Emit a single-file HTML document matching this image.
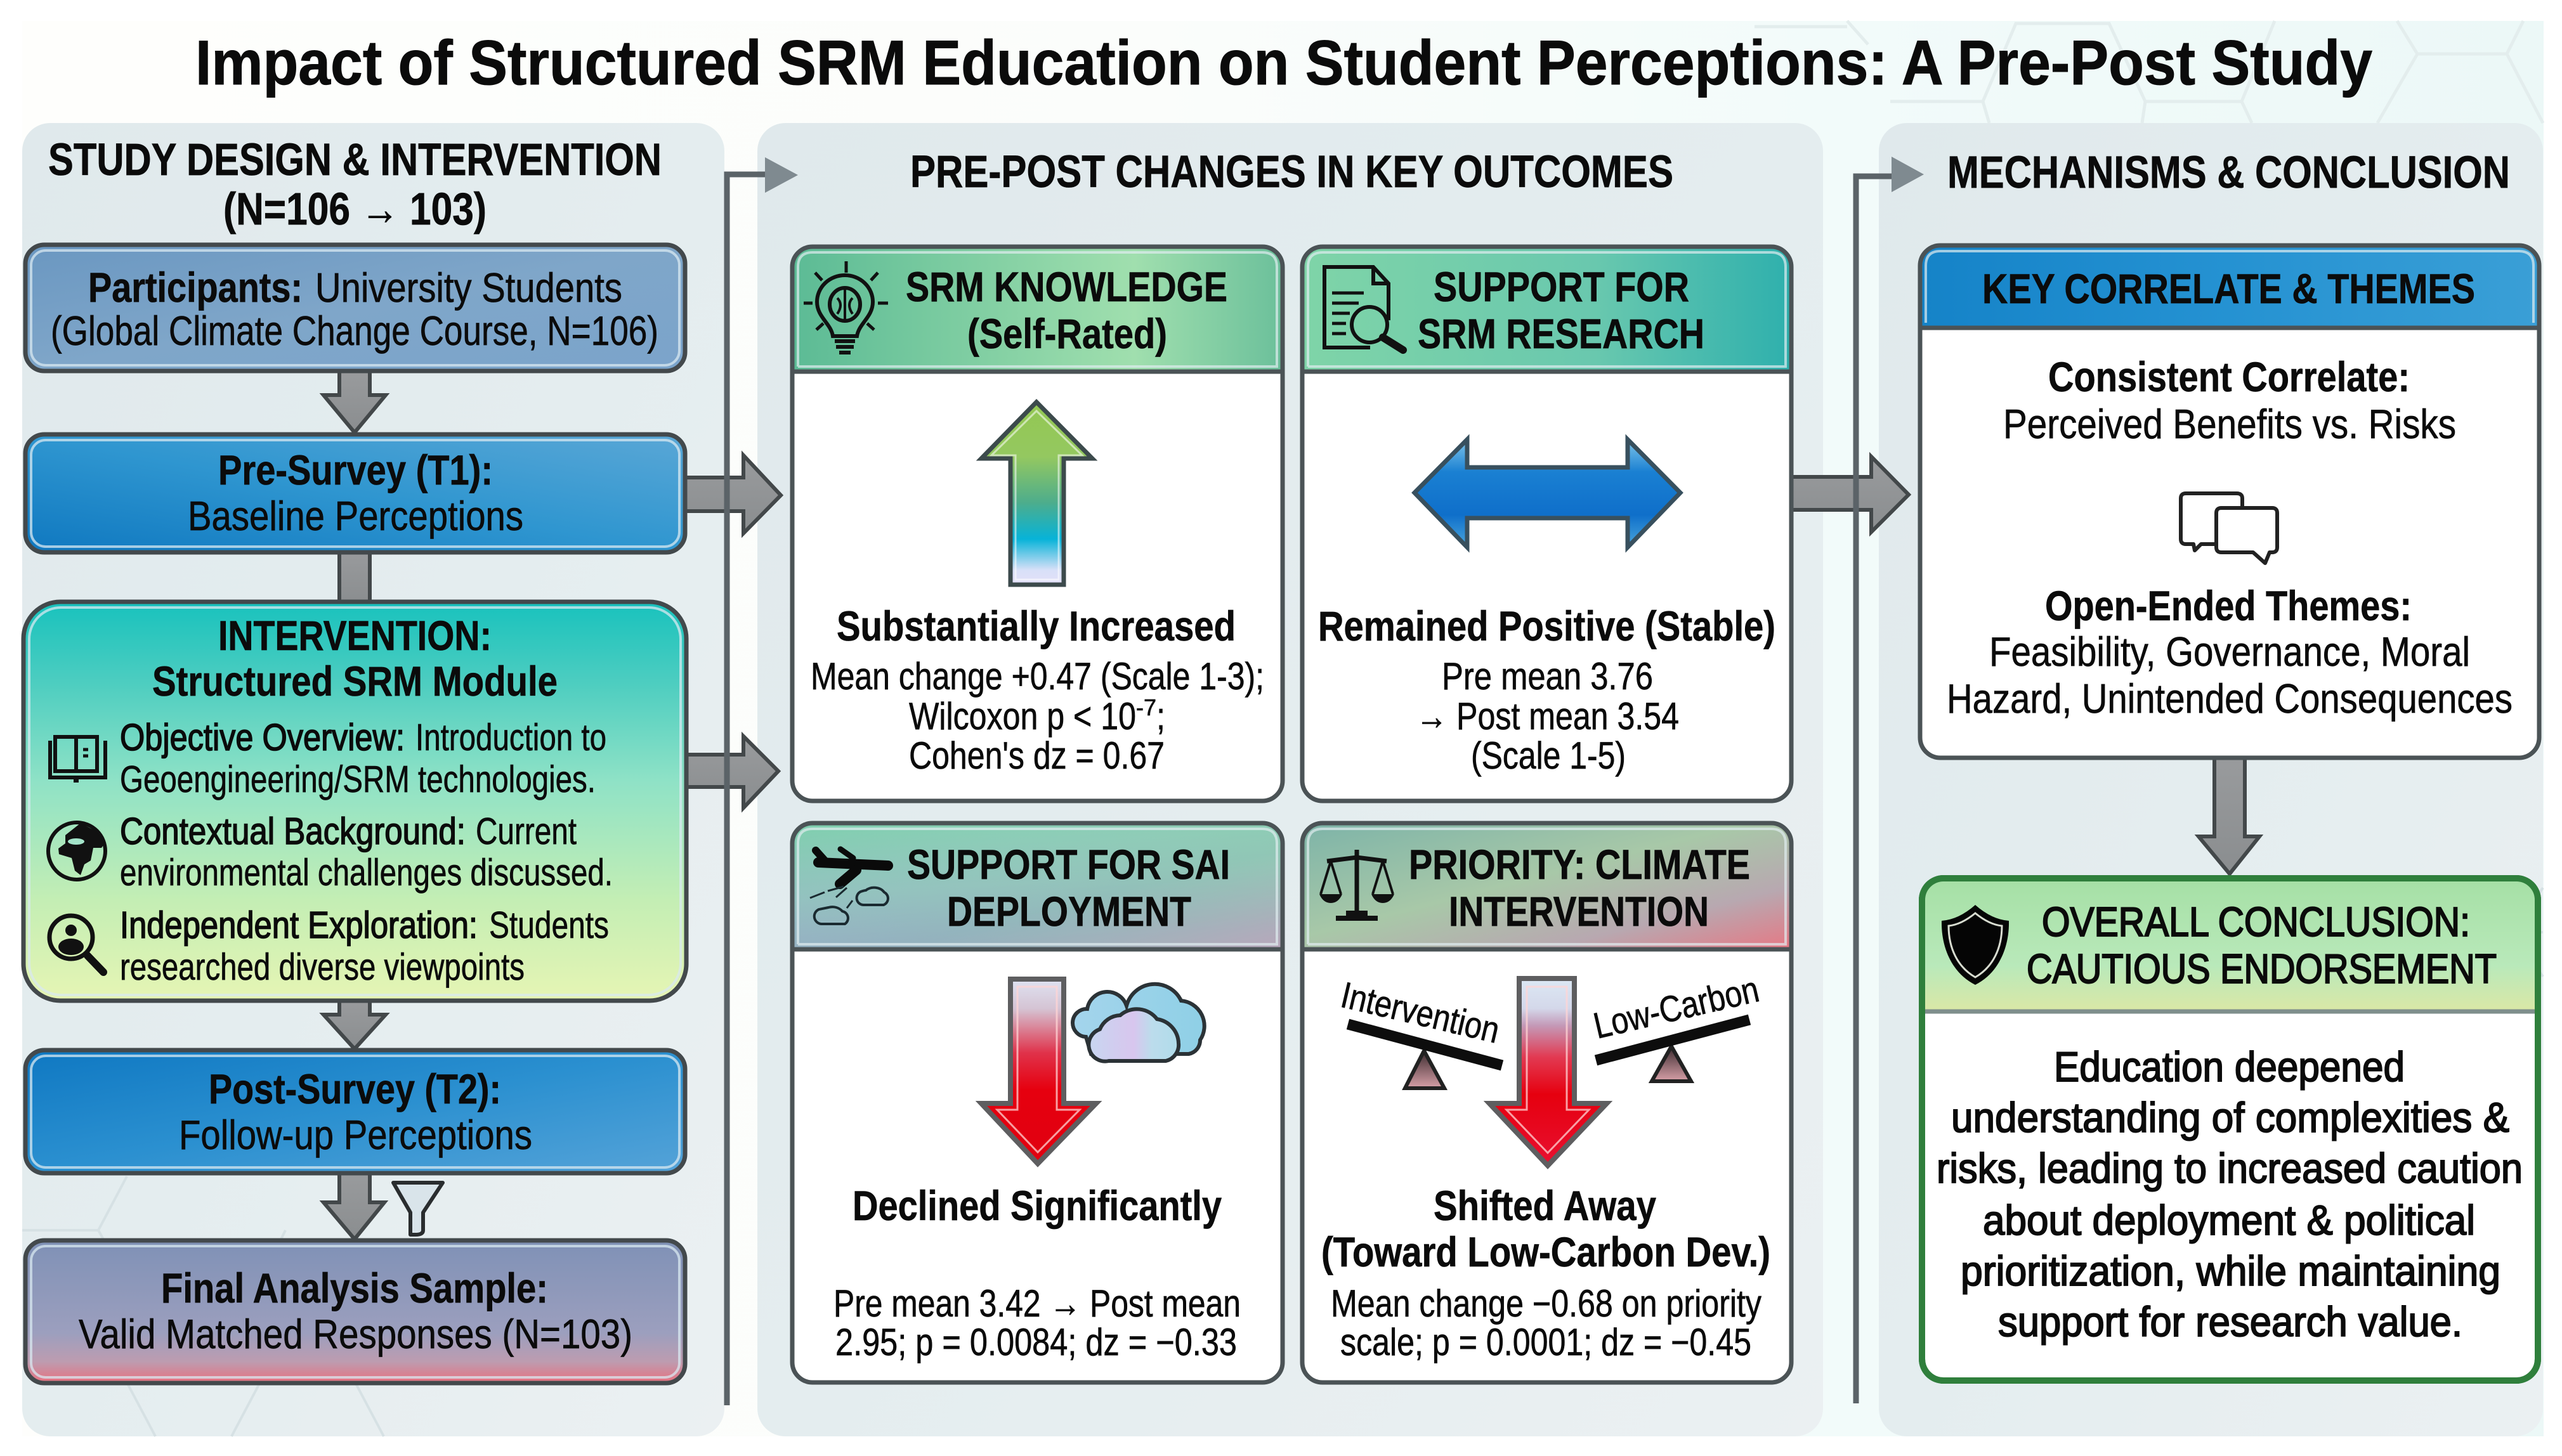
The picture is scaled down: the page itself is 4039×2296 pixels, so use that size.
<!DOCTYPE html>
<html><head><meta charset="utf-8"><title>Impact of Structured SRM Education</title>
<style>
html,body{margin:0;padding:0;width:4039px;height:2296px;overflow:hidden;background:#fff}
svg{display:block}
text{font-family:"Liberation Sans",sans-serif;fill:#0b0b0b;font-size:63px;stroke:#0b0b0b;stroke-width:.7px}
.b{font-weight:700}
.t{font-weight:700;font-size:99px;stroke-width:1px}
.h{font-weight:700;font-size:71px}
.c{font-weight:700;font-size:66px}
.s{font-weight:700;font-size:66px}
.r{font-size:60px}
.m{font-size:65px}
.l{font-size:59px}
.lb{font-size:59px;font-weight:700}
.k{font-size:66px;stroke-width:2px}
.o{font-size:65px;stroke-width:2.2px}
</style></head><body>
<svg width="4039" height="2296" viewBox="0 0 4039 2296" xmlns="http://www.w3.org/2000/svg">
<defs>
<linearGradient id="bgtop" x1="0" y1="0" x2="1" y2="0"><stop offset="0" stop-color="#fefefc"/><stop offset=".45" stop-color="#fbfdfb"/><stop offset=".72" stop-color="#f2fbfa"/><stop offset="1" stop-color="#ecf8f7"/></linearGradient>
<linearGradient id="panel" x1="0" y1="0" x2="1" y2="1"><stop offset="0" stop-color="#e0e9ec"/><stop offset=".5" stop-color="#e4edef"/><stop offset="1" stop-color="#ebf0f2"/></linearGradient>
<linearGradient id="part" x1="0" y1="0" x2="1" y2="1"><stop offset="0" stop-color="#6a97c1"/><stop offset=".5" stop-color="#7fa6c9"/><stop offset="1" stop-color="#7ba4cb"/></linearGradient>
<linearGradient id="pre" x1="0" y1="1" x2="1" y2="0"><stop offset="0" stop-color="#0f78c0"/><stop offset=".5" stop-color="#2f96d0"/><stop offset="1" stop-color="#5aa7d6"/></linearGradient>
<linearGradient id="post" x1="0" y1="0" x2="1" y2="1"><stop offset="0" stop-color="#0f78c2"/><stop offset=".5" stop-color="#2b90d0"/><stop offset="1" stop-color="#55a3d8"/></linearGradient>
<linearGradient id="int" x1="0" y1="0" x2="0" y2="1"><stop offset="0" stop-color="#18c2bd"/><stop offset=".2" stop-color="#4ccdc0"/><stop offset=".45" stop-color="#8fe2c6"/><stop offset=".75" stop-color="#c4eeb4"/><stop offset="1" stop-color="#e6f5b4"/></linearGradient>
<linearGradient id="fin" x1="0" y1="0" x2="0" y2="1"><stop offset="0" stop-color="#7f91b6"/><stop offset=".65" stop-color="#9c9fbe"/><stop offset=".85" stop-color="#bd9cb0"/><stop offset="1" stop-color="#e8707e"/></linearGradient>
<linearGradient id="h1" x1="0" y1="0" x2="1" y2="0"><stop offset="0" stop-color="#5cbb95"/><stop offset=".7" stop-color="#a0dfae"/><stop offset="1" stop-color="#6cc09b"/></linearGradient>
<linearGradient id="h2" x1="0" y1="0" x2="1" y2="0"><stop offset="0" stop-color="#7fd4a8"/><stop offset=".6" stop-color="#69c8ae"/><stop offset="1" stop-color="#2fb0ad"/></linearGradient>
<linearGradient id="h3" x1="0" y1="0" x2="0.25" y2="1"><stop offset="0" stop-color="#7fcfae"/><stop offset=".55" stop-color="#8abcbc"/><stop offset="1" stop-color="#8da0c6"/></linearGradient>
<linearGradient id="h3b" x1="0" y1="0" x2="1" y2="1"><stop offset="0" stop-color="#fff" stop-opacity="0"/><stop offset=".6" stop-color="#a8dcaa" stop-opacity=".25"/><stop offset="1" stop-color="#c8a8b8" stop-opacity=".75"/></linearGradient>
<linearGradient id="h4" x1="0" y1="0" x2="1" y2="1"><stop offset="0" stop-color="#7eb4a8"/><stop offset=".45" stop-color="#a8c8a8"/><stop offset=".75" stop-color="#b8a8b0"/><stop offset="1" stop-color="#e67884"/></linearGradient>
<linearGradient id="h5" x1="0" y1="0" x2="1" y2="0"><stop offset="0" stop-color="#1583c8"/><stop offset=".5" stop-color="#2592d2"/><stop offset="1" stop-color="#3a9fd6"/></linearGradient>
<linearGradient id="h6" x1="0" y1="0" x2="0" y2="1"><stop offset="0" stop-color="#a6e0a6"/><stop offset=".65" stop-color="#b9e9ba"/><stop offset="1" stop-color="#dbe8a6"/></linearGradient>
<linearGradient id="gr" x1="0" y1="0" x2="0" y2="1"><stop offset="0" stop-color="#999b9d"/><stop offset="1" stop-color="#8a8d8f"/></linearGradient>
<linearGradient id="up" x1="0" y1="0" x2="0" y2="1"><stop offset="0" stop-color="#93c752"/><stop offset=".3" stop-color="#94c860"/><stop offset=".55" stop-color="#4dad8c"/><stop offset=".75" stop-color="#07b3d8"/><stop offset=".92" stop-color="#d8e0f8"/><stop offset="1" stop-color="#e4e0f8"/></linearGradient>
<linearGradient id="dn" x1="0" y1="0" x2="0" y2="1"><stop offset="0" stop-color="#dfe3f2"/><stop offset=".16" stop-color="#d5c4d4"/><stop offset=".4" stop-color="#e0324a"/><stop offset=".6" stop-color="#e6000f"/><stop offset="1" stop-color="#e00010"/></linearGradient>
<linearGradient id="dn2" x1="0" y1="0" x2="0" y2="1"><stop offset="0" stop-color="#dce8f4"/><stop offset=".16" stop-color="#d4d8ea"/><stop offset=".25" stop-color="#c49ab8"/><stop offset=".42" stop-color="#e23a52"/><stop offset=".62" stop-color="#e6000f"/><stop offset="1" stop-color="#e81030"/></linearGradient>
<linearGradient id="dbl" x1="0" y1="0" x2="0" y2="1"><stop offset="0" stop-color="#7fc5ea"/><stop offset=".3" stop-color="#1a80d2"/><stop offset=".7" stop-color="#0f6fca"/><stop offset="1" stop-color="#4aa6dc"/></linearGradient>
<linearGradient id="cl1" x1="0" y1="0" x2="1" y2="0"><stop offset="0" stop-color="#a4d4ec"/><stop offset="1" stop-color="#8fd0e6"/></linearGradient>
<linearGradient id="cl2" x1="0" y1="0" x2="1" y2="0"><stop offset="0" stop-color="#c8d6f0"/><stop offset=".5" stop-color="#d8c6ee"/><stop offset=".7" stop-color="#bcdcec"/><stop offset="1" stop-color="#b0dcea"/></linearGradient>
<linearGradient id="piv" x1="0" y1="0" x2="0" y2="1"><stop offset="0" stop-color="#3a2a2e"/><stop offset="1" stop-color="#d8a0a8"/></linearGradient>
</defs>

<!-- background -->
<rect width="4039" height="2296" fill="#fff"/>
<rect x="35" y="33" width="3975" height="2232" fill="url(#bgtop)"/>
<g fill="none" stroke="#e3eded" stroke-width="5">
<path d="M2766 42 H2912 M2912 33 L2945 70 M2980 160 H3126 L3178 37 H3325 L3382 160 H3534 L3586 33 M3126 160 L3136 194 M3382 160 L3377 194 M3534 160 L3550 194 M3779 33 L3811 85 H3952 L3978 33 M3811 85 L3748 194 M3952 85 L4009 194"/>
</g>

<!-- panels -->
<rect x="35" y="194" width="1107" height="2071" rx="44" fill="url(#panel)"/>
<rect x="1194" y="194" width="1680" height="2071" rx="44" fill="url(#panel)"/>
<rect x="2962" y="194" width="1047" height="2071" rx="44" fill="url(#panel)"/>
<g fill="none" stroke="#d6e1e4" stroke-width="4">
<path d="M35 1940 H155 L200 1855 M155 1940 L200 2020 H410 L450 1940 M200 2180 L245 2265 M410 2180 L365 2265 M560 2180 L605 2265"/>
<path d="M3900 1470 L4009 1470 M3960 1470 L4009 1400 M3960 1470 L4009 1540"/>
</g>

<!-- title -->
<text class="t" x="308" y="133" textLength="3432" lengthAdjust="spacingAndGlyphs">Impact of Structured SRM Education on Student Perceptions: A Pre-Post Study</text>

<!-- panel 1 heads -->
<text class="h" x="76" y="276" textLength="967" lengthAdjust="spacingAndGlyphs">STUDY DESIGN &amp; INTERVENTION</text>
<text class="h" x="352" y="354" textLength="415" lengthAdjust="spacingAndGlyphs">(N=106 → 103)</text>

<!-- connectors left -->
<g stroke="#43484a" stroke-width="6" fill="url(#gr)" stroke-linejoin="miter">
<path d="M535 585 V623 H510 L559 682 L608 623 H583 V585 Z"/>
<path d="M535 868 H583 V952 H535 Z"/>
<path d="M535 1578 V1600 H510 L559 1654 L608 1600 H583 V1578 Z"/>
<path d="M535 1850 V1896 H510 L559 1954 L606 1896 H583 V1850 Z"/>
<path d="M1080 753 H1172 V718 L1231 781 L1172 841 V806 H1080 Z"/>
<path d="M1080 1190 H1172 V1161 L1227 1216 L1172 1274 V1241 H1080 Z"/>
<path d="M2824 752 H2950 V720 L3009 780 L2950 839 V804 H2824 Z"/>
<path d="M3491 1193 H3539 V1319 H3562 L3515 1378 L3466 1319 H3491 Z"/>
</g>

<!-- thin line connectors -->
<path d="M1146 2216 V275 H1210" fill="none" stroke="#5b6368" stroke-width="9"/>
<path d="M1206 248 L1258 276 L1206 304 Z" fill="#7f8a90"/>
<path d="M2926 2213 V278 H2986" fill="none" stroke="#5b6368" stroke-width="9"/>
<path d="M2982 247 L3033 275 L2982 303 Z" fill="#7f8a90"/>

<!-- funnel -->
<path d="M620 1865 H698 L667 1912 V1940 Q667 1947 655 1947 H647 V1912 Z" fill="#d9e4ea" stroke="#2a2d2f" stroke-width="6" stroke-linejoin="round"/>

<!-- left boxes -->
<g stroke="#43494c" stroke-width="7">
<rect x="40" y="386" width="1040" height="199" rx="30" fill="url(#part)"/>
<rect x="40" y="685" width="1040" height="186" rx="30" fill="url(#pre)"/>
<rect x="37" y="949" width="1045" height="629" rx="58" fill="url(#int)"/>
<rect x="40" y="1656" width="1040" height="194" rx="30" fill="url(#post)"/>
<rect x="40" y="1956" width="1040" height="225" rx="30" fill="url(#fin)"/>
</g>
<g fill="none" stroke="#d8e8f0" stroke-width="4" opacity=".75">
<rect x="49" y="395" width="1022" height="181" rx="23"/>
<rect x="49" y="694" width="1022" height="168" rx="23"/>
<rect x="46" y="958" width="1027" height="611" rx="50"/>
<rect x="49" y="1665" width="1022" height="176" rx="23"/>
<rect x="49" y="1965" width="1022" height="207" rx="23"/>
</g>

<text class="c" x="139" y="476" textLength="338" lengthAdjust="spacingAndGlyphs">Participants:</text>
<text class="m" x="497" y="476" textLength="484" lengthAdjust="spacingAndGlyphs">University Students</text>
<text class="m" x="80" y="544" textLength="958" lengthAdjust="spacingAndGlyphs">(Global Climate Change Course, N=106)</text>
<text class="c" x="344" y="764" textLength="433" lengthAdjust="spacingAndGlyphs">Pre-Survey (T1):</text>
<text class="m" x="296" y="836" textLength="529" lengthAdjust="spacingAndGlyphs">Baseline Perceptions</text>
<text class="c" x="344" y="1025" textLength="431" lengthAdjust="spacingAndGlyphs">INTERVENTION:</text>
<text class="c" x="240" y="1097" textLength="639" lengthAdjust="spacingAndGlyphs">Structured SRM Module</text>
<text class="l" style="stroke-width:1.6px" x="189" y="1183" textLength="449" lengthAdjust="spacingAndGlyphs">Objective Overview:</text>
<text class="l" x="655" y="1183" textLength="301" lengthAdjust="spacingAndGlyphs">Introduction to</text>
<text class="l" x="189" y="1249" textLength="750" lengthAdjust="spacingAndGlyphs">Geoengineering/SRM technologies.</text>
<text class="l" style="stroke-width:1.6px" x="189" y="1331" textLength="545" lengthAdjust="spacingAndGlyphs">Contextual Background:</text>
<text class="l" x="750" y="1331" textLength="159" lengthAdjust="spacingAndGlyphs">Current</text>
<text class="l" x="189" y="1396" textLength="777" lengthAdjust="spacingAndGlyphs">environmental challenges discussed.</text>
<text class="l" style="stroke-width:1.6px" x="189" y="1479" textLength="564" lengthAdjust="spacingAndGlyphs">Independent Exploration:</text>
<text class="l" x="771" y="1479" textLength="189" lengthAdjust="spacingAndGlyphs">Students</text>
<text class="l" x="189" y="1545" textLength="638" lengthAdjust="spacingAndGlyphs">researched diverse viewpoints</text>
<text class="c" x="329" y="1740" textLength="461" lengthAdjust="spacingAndGlyphs">Post-Survey (T2):</text>
<text class="m" x="282" y="1812" textLength="557" lengthAdjust="spacingAndGlyphs">Follow-up Perceptions</text>
<text class="c" x="254" y="2054" textLength="610" lengthAdjust="spacingAndGlyphs">Final Analysis Sample:</text>
<text class="m" x="124" y="2126" textLength="873" lengthAdjust="spacingAndGlyphs">Valid Matched Responses (N=103)</text>

<!-- intervention icons -->
<g fill="none" stroke="#111" stroke-width="6">
<path d="M79 1168 V1226 H166 V1168" stroke-width="6"/>
<rect x="87" y="1162" width="33" height="54"/>
<rect x="120" y="1162" width="33" height="54"/>
<path d="M131 1182 h8 M131 1192 h8" stroke-width="5"/>
<path d="M120 1228 v6" stroke-width="8"/>
<circle cx="121" cy="1342" r="45" stroke-width="6"/>
<circle cx="112" cy="1478" r="34" stroke-width="7"/>
<path d="M138 1507 L163 1533" stroke-width="12" stroke-linecap="round"/>
</g>
<path d="M103 1317 L127 1298 L150 1310 L165 1330 L160 1337 L147 1337 L143 1357 L133 1363 L127 1380 L118 1373 L113 1353 L93 1347 L92 1338 L103 1330 Z" fill="#111"/>
<ellipse cx="120" cy="1327" rx="13" ry="5" fill="#a4e4ca"/>
<circle cx="112" cy="1467" r="9" fill="#111"/>
<ellipse cx="112" cy="1493" rx="20" ry="13" fill="#111"/>

<!-- panel 2 -->
<text class="h" x="1435" y="295" textLength="1203" lengthAdjust="spacingAndGlyphs">PRE-POST CHANGES IN KEY OUTCOMES</text>

<g stroke="none">
<rect x="1249" y="389" width="773" height="874" rx="32" fill="#fff"/>
<rect x="2053" y="389" width="771" height="874" rx="32" fill="#fff"/>
<rect x="1249" y="1298" width="773" height="882" rx="32" fill="#fff"/>
<rect x="2053" y="1298" width="771" height="882" rx="32" fill="#fff"/>
<rect x="3027" y="387" width="976" height="808" rx="32" fill="#fff"/>
<path d="M1252 586 V421 Q1252 392 1281 392 H1990 Q2019 392 2019 421 V586 Z" fill="url(#h1)"/>
<path d="M2056 586 V421 Q2056 392 2085 392 H2792 Q2821 392 2821 421 V586 Z" fill="url(#h2)"/>
<path d="M1252 1497 V1330 Q1252 1301 1281 1301 H1990 Q2019 1301 2019 1330 V1497 Z" fill="url(#h3)"/>
<path d="M1252 1497 V1330 Q1252 1301 1281 1301 H1990 Q2019 1301 2019 1330 V1497 Z" fill="url(#h3b)"/>
<path d="M2056 1497 V1330 Q2056 1301 2085 1301 H2792 Q2821 1301 2821 1330 V1497 Z" fill="url(#h4)"/>
<path d="M3030 517 V419 Q3030 390 3059 390 H3971 Q4000 390 4000 419 V517 Z" fill="url(#h5)"/>
</g>
<g fill="none" stroke="#e0ecf0" stroke-width="4" opacity=".7">
<path d="M1258 578 V421 Q1258 398 1281 398 H1990 Q2013 398 2013 421 V578 H1258"/>
<path d="M2062 578 V421 Q2062 398 2085 398 H2792 Q2815 398 2815 421 V578 H2062"/>
<path d="M1258 1489 V1330 Q1258 1307 1281 1307 H1990 Q2013 1307 2013 1330 V1489 H1258"/>
<path d="M2062 1489 V1330 Q2062 1307 2085 1307 H2792 Q2815 1307 2815 1330 V1489 H2062"/>
<path d="M3036 509 V419 Q3036 396 3059 396 H3971 Q3994 396 3994 419 V509"/>
</g>
<g stroke="#4b5356" stroke-width="7" fill="none">
<path d="M1249 586 H2022 M2053 586 H2824 M1249 1497 H2022 M2053 1497 H2824 M3027 517 H4003"/>
<rect x="1249" y="389" width="773" height="874" rx="32"/>
<rect x="2053" y="389" width="771" height="874" rx="32"/>
<rect x="1249" y="1298" width="773" height="882" rx="32"/>
<rect x="2053" y="1298" width="771" height="882" rx="32"/>
<rect x="3027" y="387" width="976" height="808" rx="32"/>
</g>

<text class="c" x="1428" y="475" textLength="507" lengthAdjust="spacingAndGlyphs">SRM KNOWLEDGE</text>
<text class="c" x="1525" y="549" textLength="315" lengthAdjust="spacingAndGlyphs">(Self-Rated)</text>
<text class="c" x="2260" y="475" textLength="403" lengthAdjust="spacingAndGlyphs">SUPPORT FOR</text>
<text class="c" x="2235" y="549" textLength="452" lengthAdjust="spacingAndGlyphs">SRM RESEARCH</text>
<text class="c" x="1430" y="1386" textLength="509" lengthAdjust="spacingAndGlyphs">SUPPORT FOR SAI</text>
<text class="c" x="1493" y="1460" textLength="385" lengthAdjust="spacingAndGlyphs">DEPLOYMENT</text>
<text class="c" x="2221" y="1386" textLength="538" lengthAdjust="spacingAndGlyphs">PRIORITY: CLIMATE</text>
<text class="c" x="2284" y="1460" textLength="410" lengthAdjust="spacingAndGlyphs">INTERVENTION</text>

<!-- bulb -->
<g fill="none" stroke="#111" stroke-width="6">
<path d="M1313 530 C1310 510 1288 500 1288 476 A44 42 0 0 1 1376 476 C1376 500 1354 510 1351 530 Z"/>
<ellipse cx="1332" cy="480" rx="24" ry="26"/>
<path d="M1332 455 V505 M1320 470 Q1330 480 1320 495 M1344 470 Q1334 480 1344 495" stroke-width="4"/>
<path d="M1316 538 H1348 M1318 547 H1346 M1323 556 H1341" stroke-width="6"/>
<path d="M1334 412 V430 M1285 430 L1296 442 M1384 430 L1373 442 M1267 478 H1281 M1384 478 H1400 M1287 520 L1298 510 M1378 520 L1367 510" stroke-width="5"/>
</g>
<!-- doc -->
<g fill="none" stroke="#111" stroke-width="6">
<path d="M2189 505 V447 L2165 421 H2088 V548 H2160"/>
<path d="M2165 421 V447 H2189"/>
<path d="M2100 462 H2150 M2100 478 H2142 M2100 494 H2128 M2100 510 H2122 M2100 526 H2122" stroke-width="5"/>
<circle cx="2159" cy="512" r="28"/>
<path d="M2180 532 L2212 552" stroke-width="12" stroke-linecap="round"/>
</g>
<!-- plane -->
<g fill="none" stroke="#0a0a0a" stroke-linecap="round">
<path d="M1290 1360 L1400 1365" stroke-width="16"/>
<path d="M1286 1341 L1303 1360" stroke-width="12"/>
<path d="M1325 1339 L1345 1353" stroke-width="9"/>
<path d="M1350 1372 L1324 1394" stroke-width="16"/>
</g>
<g fill="none" stroke="#1a2a30" stroke-width="4">
<path d="M1361 1427 a11 11 0 0 1 -4 -21 q6 -2 8 -2 a19 16 0 0 1 29 3 a11 11 0 0 1 -1 20 Z"/>
<path d="M1295 1457 a12 12 0 0 1 -4 -23 l15 -3 a20 18 0 0 1 22 6 a11 11 0 0 1 4 20 Z"/>
<path d="M1277 1416 L1300 1407 M1305 1405 L1330 1398 M1318 1415 L1335 1400 M1335 1432 L1344 1420" stroke-width="3"/>
</g>
<!-- scales -->
<g fill="none" stroke="#111" stroke-width="7">
<path d="M2139 1340 V1440"/>
<path d="M2092 1358 L2139 1352 L2186 1358"/>
<path d="M2098 1358 L2082 1410 M2098 1358 L2114 1410 M2180 1358 L2164 1410 M2180 1358 L2196 1410" stroke-width="4"/>
</g>
<path d="M2080 1410 H2116 Q2110 1424 2098 1424 Q2086 1424 2080 1410 Z M2162 1410 H2198 Q2192 1424 2180 1424 Q2168 1424 2162 1410 Z M2106 1452 V1444 H2172 V1452 Z M2122 1444 V1436 H2156 V1444 Z" fill="#111"/>
<!-- up arrow -->
<path d="M1634 634 L1722 723 H1677 V922 H1593 V723 H1547 Z" fill="url(#up)" stroke="#3c4a4c" stroke-width="7"/>
<path d="M1634 648 L1706 718 H1669 V914 H1601 V718 H1563 Z" fill="none" stroke="#fff" stroke-width="3" opacity=".55"/>
<!-- double arrow -->
<path d="M2230 777 L2313 693 V737 H2566 V693 L2649 777 L2566 863 V817 H2313 V863 Z" fill="url(#dbl)" stroke="#38505e" stroke-width="7"/>
<!-- body texts -->
<text class="s" x="1319" y="1010" textLength="629" lengthAdjust="spacingAndGlyphs">Substantially Increased</text>
<text class="r" x="1278" y="1087" textLength="715" lengthAdjust="spacingAndGlyphs">Mean change +0.47 (Scale 1-3);</text>
<text class="r" x="1433" y="1150" textLength="358" lengthAdjust="spacingAndGlyphs">Wilcoxon p &lt; 10</text>
<text style="font-size:36px" x="1791" y="1128" textLength="32" lengthAdjust="spacingAndGlyphs">-7</text>
<text class="r" x="1823" y="1150" textLength="14" lengthAdjust="spacingAndGlyphs">;</text>
<text class="r" x="1433" y="1212" textLength="403" lengthAdjust="spacingAndGlyphs">Cohen's dz = 0.67</text>
<text class="s" x="2078" y="1010" textLength="721" lengthAdjust="spacingAndGlyphs">Remained Positive (Stable)</text>
<text class="r" x="2273" y="1087" textLength="333" lengthAdjust="spacingAndGlyphs">Pre mean 3.76</text>
<text class="r" x="2232" y="1150" textLength="415" lengthAdjust="spacingAndGlyphs">→ Post mean 3.54</text>
<text class="r" x="2319" y="1212" textLength="244" lengthAdjust="spacingAndGlyphs">(Scale 1-5)</text>

<!-- down arrows -->
<path d="M1593 1544 H1677 V1740 H1728 L1636 1835 L1547 1740 H1593 Z" fill="url(#dn)" stroke="#5e5e60" stroke-width="8"/>
<path d="M1604 1556 H1666 V1750 H1702 L1636 1817 L1572 1750 H1604 Z" fill="none" stroke="#ffd4d4" stroke-width="3" opacity=".75"/>
<path d="M2395 1543 H2482 V1740 H2533 L2440 1838 L2348 1740 H2395 Z" fill="url(#dn2)" stroke="#5e5e60" stroke-width="8"/>
<path d="M2407 1556 H2470 V1750 H2505 L2440 1818 L2375 1750 H2407 Z" fill="none" stroke="#ffd4d4" stroke-width="3" opacity=".75"/>
<!-- clouds -->
<path d="M1712 1635 a22 22 0 0 1 2 -44 a32 32 0 0 1 62 -5 a46 46 0 0 1 86 -8 a40 40 0 0 1 30 62 a22 22 0 0 1 -18 22 H1720 Z" fill="url(#cl1)" stroke="#2b3236" stroke-width="6"/>
<path d="M1748 1673 a26 26 0 0 1 -14 -50 a36 36 0 0 1 32 -22 a40 40 0 0 1 58 6 a40 40 0 0 1 34 38 a26 26 0 0 1 -20 28 Z" fill="url(#cl2)" stroke="#2b3236" stroke-width="6"/>
<!-- seesaws -->
<path d="M2245 1657 L2277 1716 H2215 Z" fill="url(#piv)" stroke="#222" stroke-width="6"/>
<path d="M2125 1615 L2368 1680" stroke="#0d0d0d" stroke-width="17"/>
<path d="M2635 1650 L2666 1705 H2604 Z" fill="url(#piv)" stroke="#222" stroke-width="6"/>
<path d="M2516 1672 L2758 1608" stroke="#0d0d0d" stroke-width="17"/>
<text style="font-size:58px" transform="translate(2111 1587) rotate(13.2)" textLength="254" lengthAdjust="spacingAndGlyphs">Intervention</text>
<text style="font-size:58px" transform="translate(2518 1638) rotate(-13.1)" textLength="265" lengthAdjust="spacingAndGlyphs">Low-Carbon</text>

<text class="s" x="1344" y="1924" textLength="582" lengthAdjust="spacingAndGlyphs">Declined Significantly</text>
<text class="s" x="2260" y="1924" textLength="351" lengthAdjust="spacingAndGlyphs">Shifted Away</text>
<text class="s" x="2083" y="1997" textLength="708" lengthAdjust="spacingAndGlyphs">(Toward Low-Carbon Dev.)</text>
<text class="r" x="1314" y="2076" textLength="642" lengthAdjust="spacingAndGlyphs">Pre mean 3.42 → Post mean</text>
<text class="r" x="1317" y="2137" textLength="633" lengthAdjust="spacingAndGlyphs">2.95; p = 0.0084; dz = −0.33</text>
<text class="r" x="2098" y="2076" textLength="679" lengthAdjust="spacingAndGlyphs">Mean change −0.68 on priority</text>
<text class="r" x="2113" y="2137" textLength="648" lengthAdjust="spacingAndGlyphs">scale; p = 0.0001; dz = −0.45</text>

<!-- panel 3 -->
<text class="h" x="3070" y="296" textLength="887" lengthAdjust="spacingAndGlyphs">MECHANISMS &amp; CONCLUSION</text>
<text class="c" x="3125" y="478" textLength="777" lengthAdjust="spacingAndGlyphs">KEY CORRELATE &amp; THEMES</text>
<text class="c" x="3229" y="617" textLength="570" lengthAdjust="spacingAndGlyphs">Consistent Correlate:</text>
<text class="m" x="3158" y="691" textLength="714" lengthAdjust="spacingAndGlyphs">Perceived Benefits vs. Risks</text>
<text class="c" x="3224" y="978" textLength="578" lengthAdjust="spacingAndGlyphs">Open-Ended Themes:</text>
<text class="m" x="3136" y="1050" textLength="758" lengthAdjust="spacingAndGlyphs">Feasibility, Governance, Moral</text>
<text class="m" x="3069" y="1124" textLength="892" lengthAdjust="spacingAndGlyphs">Hazard, Unintended Consequences</text>
<!-- chat -->
<g fill="#fff" stroke="#222" stroke-width="6" stroke-linejoin="round">
<path d="M3446 778 H3526 Q3535 778 3535 786 V858 H3470 L3460 868 L3458 858 H3446 Q3438 858 3438 850 V786 Q3438 778 3446 778 Z"/>
<path d="M3502 801 H3582 Q3590 801 3590 809 V863 Q3590 871 3582 871 H3578 L3571 888 L3552 871 H3502 Q3494 871 3494 863 V809 Q3494 801 3502 801 Z"/>
</g>
<!-- conclusion -->
<rect x="3030" y="1385" width="971" height="792" rx="34" fill="#fff" stroke="#2f7f3c" stroke-width="10"/>
<path d="M3035 1595 V1419 Q3035 1390 3064 1390 H3967 Q3996 1390 3996 1419 V1595 Z" fill="url(#h6)"/>
<path d="M3035 1595 H3996" stroke="#7f8f8c" stroke-width="7"/>
<rect x="3030" y="1385" width="971" height="792" rx="34" fill="none" stroke="#2f7f3c" stroke-width="10"/>
<path d="M3114 1427 Q3140 1450 3167 1452 C3168 1495 3150 1535 3114 1553 C3078 1535 3060 1495 3061 1452 Q3088 1450 3114 1427 Z" fill="#050505"/>
<path d="M3114 1440 Q3136 1458 3156 1460 C3156 1495 3142 1525 3114 1541 C3086 1525 3072 1495 3072 1460 Q3092 1458 3114 1440 Z" fill="none" stroke="#d8dcd0" stroke-width="3"/>
<text class="o" x="3219" y="1476" textLength="675" lengthAdjust="spacingAndGlyphs">OVERALL CONCLUSION:</text>
<text class="o" x="3195" y="1550" textLength="741" lengthAdjust="spacingAndGlyphs">CAUTIOUS ENDORSEMENT</text>
<text class="k" x="3238" y="1705" textLength="553" lengthAdjust="spacingAndGlyphs">Education deepened</text>
<text class="k" x="3076" y="1785" textLength="880" lengthAdjust="spacingAndGlyphs">understanding of complexities &amp;</text>
<text class="k" x="3053" y="1865" textLength="924" lengthAdjust="spacingAndGlyphs">risks, leading to increased caution</text>
<text class="k" x="3126" y="1947" textLength="776" lengthAdjust="spacingAndGlyphs">about deployment &amp; political</text>
<text class="k" x="3091" y="2027" textLength="851" lengthAdjust="spacingAndGlyphs">prioritization, while maintaining</text>
<text class="k" x="3150" y="2107" textLength="732" lengthAdjust="spacingAndGlyphs">support for research value.</text>
</svg>
</body></html>
